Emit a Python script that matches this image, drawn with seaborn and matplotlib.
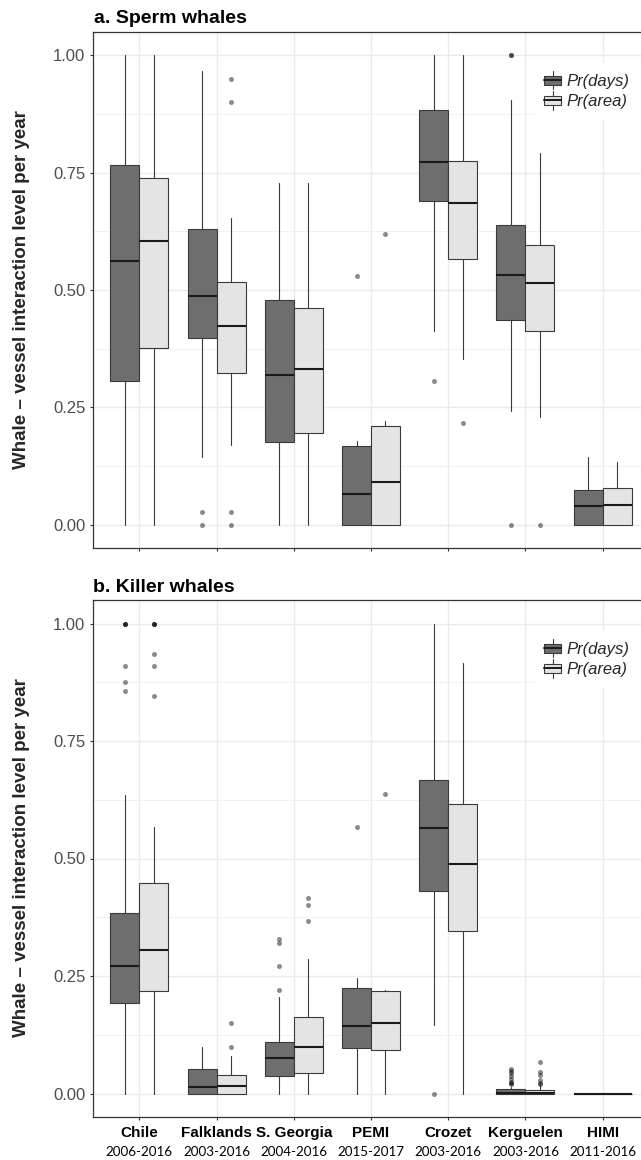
import numpy as np
import pandas as pd
import matplotlib
matplotlib.use("Agg")
import matplotlib.pyplot as plt
import seaborn as sns
from matplotlib.patches import Patch, Rectangle
from matplotlib.lines import Line2D
from matplotlib.legend_handler import HandlerBase
from matplotlib.ticker import MultipleLocator, FormatStrFormatter

# ---------------- data ----------------
categories = ["Chile", "Falklands", "S. Georgia", "PEMI", "Crozet", "Kerguelen", "HIMI"]
years = ["2006-2016", "2003-2016", "2004-2016", "2015-2017", "2003-2016", "2003-2016", "2011-2016"]
series_labels = ["Pr(days)", "Pr(area)"]

# a. Sperm whales
sperm_days_whislo = [0.000, 0.145, 0.000, 0.000, 0.413, 0.242, 0.000]
sperm_days_q1     = [0.306, 0.397, 0.175, 0.000, 0.690, 0.437, 0.000]
sperm_days_med    = [0.562, 0.488, 0.318, 0.065, 0.772, 0.533, 0.040]
sperm_days_q3     = [0.766, 0.631, 0.479, 0.168, 0.883, 0.638, 0.073]
sperm_days_whishi = [1.000, 0.966, 0.729, 0.178, 1.000, 0.906, 0.144]
sperm_days_out    = [[], [0.026, 0.0], [], [0.529], [0.306], [1.0, 1.0, 0.0], []]

sperm_area_whislo = [0.000, 0.170, 0.000, 0.000, 0.352, 0.230, 0.000]
sperm_area_q1     = [0.376, 0.323, 0.196, 0.000, 0.566, 0.413, 0.000]
sperm_area_med    = [0.605, 0.423, 0.332, 0.090, 0.685, 0.515, 0.042]
sperm_area_q3     = [0.739, 0.518, 0.462, 0.211, 0.775, 0.595, 0.078]
sperm_area_whishi = [1.000, 0.653, 0.729, 0.221, 1.000, 0.791, 0.133]
sperm_area_out    = [[], [0.950, 0.901, 0.026, 0.0], [], [0.619], [0.216], [0.0], []]

# b. Killer whales
killer_days_whislo = [0.000, 0.000, 0.000, 0.000, 0.146, 0.000, 0.000]
killer_days_q1     = [0.192, 0.000, 0.038, 0.096, 0.430, 0.000, 0.000]
killer_days_med    = [0.272, 0.013, 0.075, 0.144, 0.565, 0.002, 0.000]
killer_days_q3     = [0.384, 0.053, 0.110, 0.224, 0.667, 0.009, 0.000]
killer_days_whishi = [0.635, 0.098, 0.205, 0.246, 1.000, 0.014, 0.000]
killer_days_out    = [[1.0, 1.0, 1.0, 0.909, 0.875, 0.857], [], [0.221, 0.272, 0.321, 0.329],
                      [0.567], [0.0], [0.053, 0.048, 0.043, 0.038, 0.030, 0.025, 0.022, 0.020], []]

killer_area_whislo = [0.000, 0.000, 0.000, 0.000, 0.000, 0.000, 0.000]
killer_area_q1     = [0.218, 0.000, 0.044, 0.093, 0.346, 0.000, 0.000]
killer_area_med    = [0.306, 0.016, 0.100, 0.151, 0.488, 0.002, 0.000]
killer_area_q3     = [0.448, 0.040, 0.163, 0.218, 0.617, 0.008, 0.000]
killer_area_whishi = [0.566, 0.080, 0.287, 0.221, 0.917, 0.016, 0.000]
killer_area_out    = [[1.0, 1.0, 1.0, 0.936, 0.909, 0.846], [0.100, 0.149], [0.367, 0.401, 0.417],
                      [0.637], [], [0.068, 0.045, 0.040, 0.028, 0.023, 0.020], []]

panel_titles = ["a. Sperm whales", "b. Killer whales"]
ylabel = "Whale \u2013 vessel interaction level per year"

# ---------------- style ----------------
sns.set_style("white")
plt.rcParams["font.family"] = ["Liberation Sans", "DejaVu Sans"]

FILL_COLORS = ["#6e6e6e", "#e4e4e4"]
EDGE = "#3a3a3a"
W = 641 / 100.0
H = 1160 / 100.0
fig = plt.figure(figsize=(W, H), dpi=100)

def px_ax(left, top, right, bottom):
    return fig.add_axes([left / 641, 1 - bottom / 1160, (right - left) / 641, (bottom - top) / 1160])

ax_top = px_ax(93, 32, 649, 548)
ax_bot = px_ax(93, 600, 649, 1117)

def build_stats(whislo, q1, med, q3, whishi):
    return [dict(whislo=a, q1=b, med=c, q3=d, whishi=e, fliers=[]) for a, b, c, d, e in
            zip(whislo, q1, med, q3, whishi)]

panels = [
    (ax_top,
     [build_stats(sperm_days_whislo, sperm_days_q1, sperm_days_med, sperm_days_q3, sperm_days_whishi),
      build_stats(sperm_area_whislo, sperm_area_q1, sperm_area_med, sperm_area_q3, sperm_area_whishi)],
     [sperm_days_out, sperm_area_out]),
    (ax_bot,
     [build_stats(killer_days_whislo, killer_days_q1, killer_days_med, killer_days_q3, killer_days_whishi),
      build_stats(killer_area_whislo, killer_area_q1, killer_area_med, killer_area_q3, killer_area_whishi)],
     [killer_days_out, killer_area_out]),
]

DODGE = 0.1875
BOXW = 0.375
idx = np.arange(len(categories))

class BoxKeyHandler(HandlerBase):
    def create_artists(self, legend, orig_handle, xdescent, ydescent, width, height, fontsize, trans):
        face = orig_handle.get_facecolor()
        x0, y0 = -xdescent, -ydescent
        bh = height * 0.62
        by = y0 + (height - bh) / 2
        rect = Rectangle((x0, by), width, bh, facecolor=face, edgecolor=EDGE, lw=0.8, transform=trans)
        cx = x0 + width / 2
        med = Line2D([x0, x0 + width], [by + bh / 2] * 2, color="#1a1a1a", lw=1.4, transform=trans)
        w1 = Line2D([cx, cx], [by + bh, y0 + height + 1.5], color=EDGE, lw=0.8, transform=trans)
        w2 = Line2D([cx, cx], [y0 - 1.5, by], color=EDGE, lw=0.8, transform=trans)
        return [w1, w2, rect, med]

for p, (ax, stats_pair, outs_pair) in enumerate(panels):
    for s in range(2):
        offset = -DODGE if s == 0 else DODGE
        ax.bxp(stats_pair[s], positions=idx + offset, widths=BOXW, patch_artist=True,
               showfliers=False, showcaps=False, manage_ticks=False,
               boxprops=dict(facecolor=FILL_COLORS[s], edgecolor=EDGE, linewidth=0.8),
               medianprops=dict(color="#1a1a1a", linewidth=1.5),
               whiskerprops=dict(color=EDGE, linewidth=0.8), zorder=2)
        # outliers
        xs, ys = [], []
        for i, vals in enumerate(outs_pair[s]):
            for v in vals:
                xs.append(i + offset)
                ys.append(v)
        if xs:
            df = pd.DataFrame({"x": xs, "y": ys})
            sns.scatterplot(data=df, x="x", y="y", ax=ax, color="black", alpha=0.45,
                            s=13, linewidth=0, zorder=3, legend=False)

    ax.set_xlim(-0.6, 6.6)
    ax.set_ylim(-0.05, 1.05)
    ax.set_xticks(idx)
    ax.yaxis.set_major_locator(MultipleLocator(0.25))
    ax.yaxis.set_minor_locator(MultipleLocator(0.125))
    ax.yaxis.set_major_formatter(FormatStrFormatter("%.2f"))
    ax.grid(True, which="major", color="#ebebeb", linewidth=1.0)
    ax.grid(True, which="minor", axis="y", color="#f1f1f1", linewidth=0.7)
    ax.set_axisbelow(True)
    ax.tick_params(axis="both", which="major", length=2.5, width=0.8, color="#333333",
                   direction="out", bottom=True, left=True)
    ax.tick_params(axis="y", which="major", labelsize=12, labelcolor="#4d4d4d", pad=3)
    ax.tick_params(which="minor", length=0)
    for sp in ax.spines.values():
        sp.set_color("#333333")
        sp.set_linewidth(0.9)
    ax.set_xlabel("")
    ax.set_ylabel("")

    handles = [Patch(facecolor=FILL_COLORS[0], label=series_labels[0]),
               Patch(facecolor=FILL_COLORS[1], label=series_labels[1])]
    leg = ax.legend(handles=handles, loc="upper right", bbox_to_anchor=(0.983, 0.94),
                    handler_map={Patch: BoxKeyHandler()}, frameon=True, fancybox=False,
                    edgecolor="white", facecolor="white", framealpha=1.0,
                    prop=dict(style="italic", size=12), handlelength=1.0, handleheight=0.95,
                    handletextpad=0.35, labelspacing=0.25, borderpad=0.6, borderaxespad=0.0)
    leg.set_zorder(5)

# x labels
ax_top.set_xticklabels([])
ax_bot.set_xticklabels(categories, fontsize=11, fontweight="bold", color="black")
ax_bot.tick_params(axis="x", pad=4)
for i, yr in enumerate(years):
    ax_bot.annotate(yr, xy=(i, 0), xycoords=("data", "axes fraction"),
                    xytext=(0, -38.5 * 0.72), textcoords="offset points",
                    ha="center", va="baseline", fontsize=9.6, family=["Lato", "DejaVu Sans"],
                    color="black", annotation_clip=False)

# titles and y labels
fig.text(94 / 641, 1 - 23 / 1160, panel_titles[0], fontsize=14, fontweight="bold", va="baseline", ha="left", color="black")
fig.text(93 / 641, 1 - 591.5 / 1160, panel_titles[1], fontsize=14, fontweight="bold", va="baseline", ha="left", color="black")
fig.text(22 / 641, 1 - 290 / 1160, ylabel, rotation=90, fontsize=13.5, fontweight="bold", va="center", ha="center")
fig.text(22 / 641, 1 - 858 / 1160, ylabel, rotation=90, fontsize=13.5, fontweight="bold", va="center", ha="center")

fig.savefig("out.png", dpi=100)
